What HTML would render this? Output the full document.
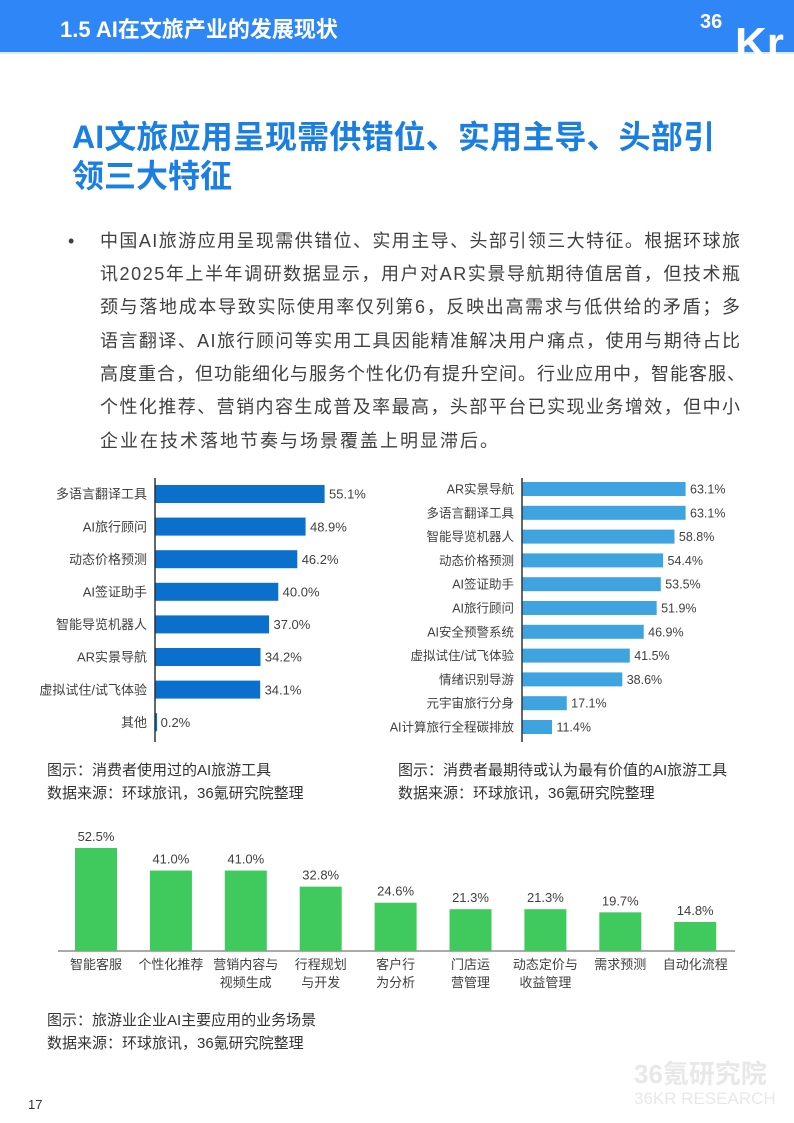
<!DOCTYPE html>
<html><head><meta charset="utf-8"><style>
html,body{margin:0;padding:0;background:#fff}
svg{display:block}
text{font-family:"Liberation Sans","Noto Sans CJK SC",sans-serif}
</style></head><body>
<svg id="page" width="794" height="1123" viewBox="0 0 794 1123" xmlns="http://www.w3.org/2000/svg">
<rect x="0" y="0" width="794" height="52" fill="#2f86f6"/>
<rect x="0" y="52" width="794" height="2" fill="#dfe9f7"/>
<text x="60" y="37" font-size="22" font-weight="bold" fill="#fff">1.5 AI在文旅产业的发展现状</text>
<g fill="#fff">
<text x="700" y="28" font-size="20" font-weight="bold">36</text>
<text x="735" y="58" font-size="44" font-weight="bold">Kr</text>
</g>
<text x="72" y="148" font-size="32" font-weight="bold" fill="#1a7fe0" textLength="643">AI文旅应用呈现需供错位、实用主导、头部引</text>
<text x="72" y="187" font-size="32" font-weight="bold" fill="#1a7fe0">领三大特征</text>
<g font-size="18" fill="#404040">
<text x="68" y="247">•</text>
<text x="100" y="247" textLength="640">中国AI旅游应用呈现需供错位、实用主导、头部引领三大特征。根据环球旅</text>
<text x="100" y="280" textLength="640">讯2025年上半年调研数据显示，用户对AR实景导航期待值居首，但技术瓶</text>
<text x="100" y="313" textLength="640">颈与落地成本导致实际使用率仅列第6，反映出高需求与低供给的矛盾；多</text>
<text x="100" y="347" textLength="640">语言翻译、AI旅行顾问等实用工具因能精准解决用户痛点，使用与期待占比</text>
<text x="100" y="380" textLength="645">高度重合，但功能细化与服务个性化仍有提升空间。行业应用中，智能客服、</text>
<text x="100" y="413" textLength="640">个性化推荐、营销内容生成普及率最高，头部平台已实现业务增效，但中小</text>
<text x="100" y="447" textLength="398">企业在技术落地节奏与场景覆盖上明显滞后。</text>
</g>
<g id="chart1"></g>
<g id="chart2"></g>
<g id="chart3"></g>
<g font-size="15" fill="#333">
<text x="47" y="775">图示：消费者使用过的AI旅游工具</text>
<text x="47" y="798">数据来源：环球旅讯，36氪研究院整理</text>
<text x="398" y="775">图示：消费者最期待或认为最有价值的AI旅游工具</text>
<text x="398" y="798">数据来源：环球旅讯，36氪研究院整理</text>
<text x="47" y="1025">图示：旅游业企业AI主要应用的业务场景</text>
<text x="47" y="1048">数据来源：环球旅讯，36氪研究院整理</text>
</g>
<g fill="#e8e8e8">
<text x="634" y="1083" font-size="26" font-weight="bold">36氪研究院</text>
<text x="634" y="1104" font-size="17">36KR RESEARCH</text>
</g>
<text x="28" y="1109" font-size="13" fill="#333">17</text>
</svg>
<script>
const c1Labels=["多语言翻译工具","AI旅行顾问","动态价格预测","AI签证助手","智能导览机器人","AR实景导航","虚拟试住/试飞体验","其他"];
const c1Values=[55.1,48.9,46.2,40.0,37.0,34.2,34.1,0.2];
const c2Labels=["AR实景导航","多语言翻译工具","智能导览机器人","动态价格预测","AI签证助手","AI旅行顾问","AI安全预警系统","虚拟试住/试飞体验","情绪识别导游","元宇宙旅行分身","AI计算旅行全程碳排放"];
const c2Values=[63.1,63.1,58.8,54.4,53.5,51.9,46.9,41.5,38.6,17.1,11.4];
const c3Labels=[["智能客服"],["个性化推荐"],["营销内容与","视频生成"],["行程规划","与开发"],["客户行","为分析"],["门店运","营管理"],["动态定价与","收益管理"],["需求预测"],["自动化流程"]];
const c3Values=[52.5,41.0,41.0,32.8,24.6,21.3,21.3,19.7,14.8];
const NS="http://www.w3.org/2000/svg";
function mk(p,tag,a,txt){const e=document.createElementNS(NS,tag);for(const k in a)e.setAttribute(k,a[k]);if(txt!==undefined)e.textContent=txt;p.appendChild(e);return e;}
function hbar(gid,labels,values,x0,scale,y0,step,bh,color,fs){
  const g=document.getElementById(gid);
  const ax=mk(g,'line',{x1:x0,y1:478,x2:x0,y2:742,stroke:'#000','stroke-width':1.2});
  
  
  labels.forEach((l,i)=>{
    const cy=y0+i*step, w=values[i]*scale;
    const r=mk(g,'rect',{x:x0+0.6,y:cy-bh/2,width:Math.max(w,1.5),height:bh,fill:color});
    
    
    const t=mk(g,'text',{x:x0-8,y:cy+fs*0.36,'text-anchor':'end','font-size':fs,fill:'#404040'},l);
    
    
    const v=mk(g,'text',{x:x0+w+5,y:cy+fs*0.36,'font-size':fs,fill:'#404040'},values[i].toFixed(1)+'%');
    
    
  });
}
hbar('chart1',c1Labels,c1Values,155,169/55.1,494,32.6,18,'#0a70cc',13);
hbar('chart2',c2Labels,c2Values,522,163/63.1,489,23.8,14,'#3fa3e0',12.5);
(function(){
  const g=document.getElementById('chart3');
  const base=951, sc=103/52.5, step=74.9, x0=96, bw=42;
  const ax=mk(g,'line',{x1:58,y1:base,x2:735,y2:base,stroke:'#555','stroke-width':1});
  
  
  c3Values.forEach((v,i)=>{
    const cx=x0+i*step,h=v*sc;
    const r=mk(g,'rect',{x:cx-bw/2,y:base-h,width:bw,height:h,fill:'#40c95c'});
    
    
    const t=mk(g,'text',{x:cx,y:base-h-7,'text-anchor':'middle','font-size':13,fill:'#404040'},v.toFixed(1)+'%');
    
    
    c3Labels[i].forEach((l,j)=>{
      const lt=mk(g,'text',{x:cx,y:969+j*18,'text-anchor':'middle','font-size':13,fill:'#404040'},l);
      
      
    });
  });
})();
</script>
</body></html>
